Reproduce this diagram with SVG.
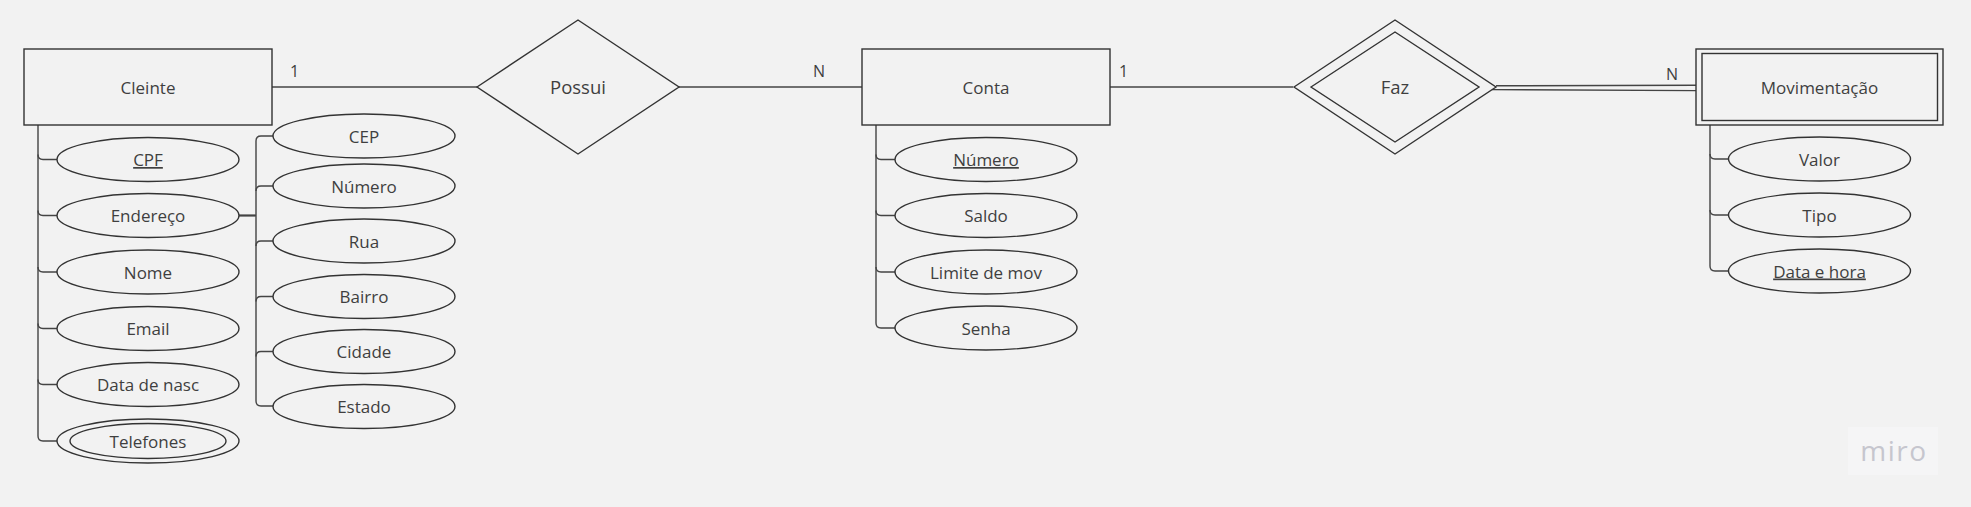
<svg xmlns="http://www.w3.org/2000/svg" width="1971" height="507" viewBox="0 0 1971 507">
<style>
.bg{fill:#f2f2f2}
.shape{fill:none;stroke:#333;stroke-width:1.4}
.ln{fill:none;stroke:#444;stroke-width:1.4}
.t{font-family:"Open Sans","Liberation Sans",sans-serif;font-size:17px;fill:#3f3f3f;text-anchor:middle}
.rel{font-size:18.5px}
.card{font-family:"Open Sans","Liberation Sans",sans-serif;font-size:16px;fill:#3f3f3f}
.u{text-decoration:underline}
</style>
<rect class="bg" x="0" y="0" width="1971" height="507"/>

<g id="connectors">
  <path class="ln" d="M272,87 H478"/>
  <path class="ln" d="M679,87 H862"/>
  <path class="ln" d="M1110,87 H1293"/>
  <path class="ln" d="M1496,85.8 L1696,85.3"/>
  <path class="ln" d="M1492,89.6 L1696,90.6"/>
  <path class="ln" d="M38,125 V436 Q38,441 43,441 H57"/>
  <path class="ln" d="M38,154.5 Q38,159.5 43,159.5 H57"/>
  <path class="ln" d="M38,210.5 Q38,215.5 43,215.5 H57"/>
  <path class="ln" d="M38,267 Q38,272 43,272 H57"/>
  <path class="ln" d="M38,323.5 Q38,328.5 43,328.5 H57"/>
  <path class="ln" d="M38,379.5 Q38,384.5 43,384.5 H57"/>
  <path class="ln" d="M239,215.5 H256" style="stroke-width:2.2"/>
  <path class="ln" d="M273,136 H261 Q256,136 256,141 V401 Q256,406 261,406 H273"/>
  <path class="ln" d="M256,191 Q256,186 261,186 H273"/>
  <path class="ln" d="M256,246 Q256,241 261,241 H273"/>
  <path class="ln" d="M256,301.5 Q256,296.5 261,296.5 H273"/>
  <path class="ln" d="M256,356.5 Q256,351.5 261,351.5 H273"/>
  <path class="ln" d="M876,125 V323 Q876,328 881,328 H895"/>
  <path class="ln" d="M876,154.5 Q876,159.5 881,159.5 H895"/>
  <path class="ln" d="M876,210.5 Q876,215.5 881,215.5 H895"/>
  <path class="ln" d="M876,267 Q876,272 881,272 H895"/>
  <path class="ln" d="M1710,125 V266 Q1710,271 1715,271 H1728"/>
  <path class="ln" d="M1710,154 Q1710,159 1715,159 H1728"/>
  <path class="ln" d="M1710,210 Q1710,215 1715,215 H1728"/>
  <text class="card" x="290" y="77">1</text>
  <text class="card" x="813" y="77">N</text>
  <text class="card" x="1119" y="77">1</text>
  <text class="card" x="1666" y="80">N</text>
</g>

<g id="cleinte">
  <rect class="shape" x="24" y="49" width="248" height="76"/>
  <text class="t" x="148" y="94">Cleinte</text>
</g>
<g id="possui">
  <polygon class="shape" points="477,87 578,20 679,87 578,154"/>
  <text class="t rel" x="578" y="94">Possui</text>
</g>
<g id="conta">
  <rect class="shape" x="862" y="49" width="248" height="76"/>
  <text class="t" x="986" y="94">Conta</text>
</g>
<g id="faz">
  <polygon class="shape" points="1294,87 1395,20 1496,87 1395,154"/>
  <polygon class="shape" points="1311,87 1395,32 1479,87 1395,142"/>
  <text class="t rel" x="1395" y="94">Faz</text>
</g>
<g id="movimentacao">
  <rect class="shape" x="1696" y="49" width="247" height="76"/>
  <rect class="shape" x="1702" y="53.5" width="235.5" height="67"/>
  <text class="t" x="1819.5" y="94">Movimentação</text>
</g>

<g id="attr-cpf"><ellipse class="shape" cx="148" cy="159.5" rx="91" ry="22"/><text class="t u" x="148" y="166">CPF</text></g>
<g id="attr-endereco"><ellipse class="shape" cx="148" cy="215.5" rx="91" ry="22"/><text class="t" x="148" y="222">Endereço</text></g>
<g id="attr-nome"><ellipse class="shape" cx="148" cy="272" rx="91" ry="22"/><text class="t" x="148" y="278.5">Nome</text></g>
<g id="attr-email"><ellipse class="shape" cx="148" cy="328.5" rx="91" ry="22"/><text class="t" x="148" y="335">Email</text></g>
<g id="attr-datanasc"><ellipse class="shape" cx="148" cy="384.5" rx="91" ry="22"/><text class="t" x="148" y="391">Data de nasc</text></g>
<g id="attr-telefones"><ellipse class="shape" cx="148" cy="441" rx="91" ry="22"/><ellipse class="shape" cx="148" cy="441" rx="78" ry="17.5"/><text class="t" x="148" y="447.5">Telefones</text></g>

<g id="attr-cep"><ellipse class="shape" cx="364" cy="136" rx="91" ry="22"/><text class="t" x="364" y="142.5">CEP</text></g>
<g id="attr-numero-end"><ellipse class="shape" cx="364" cy="186" rx="91" ry="22"/><text class="t" x="364" y="192.5">Número</text></g>
<g id="attr-rua"><ellipse class="shape" cx="364" cy="241" rx="91" ry="22"/><text class="t" x="364" y="247.5">Rua</text></g>
<g id="attr-bairro"><ellipse class="shape" cx="364" cy="296.5" rx="91" ry="22"/><text class="t" x="364" y="303">Bairro</text></g>
<g id="attr-cidade"><ellipse class="shape" cx="364" cy="351.5" rx="91" ry="22"/><text class="t" x="364" y="358">Cidade</text></g>
<g id="attr-estado"><ellipse class="shape" cx="364" cy="406.5" rx="91" ry="22"/><text class="t" x="364" y="413">Estado</text></g>

<g id="attr-numero"><ellipse class="shape" cx="986" cy="159.5" rx="91" ry="22"/><text class="t u" x="986" y="166">Número</text></g>
<g id="attr-saldo"><ellipse class="shape" cx="986" cy="215.5" rx="91" ry="22"/><text class="t" x="986" y="222">Saldo</text></g>
<g id="attr-limite"><ellipse class="shape" cx="986" cy="272" rx="91" ry="22"/><text class="t" x="986" y="278.5">Limite de mov</text></g>
<g id="attr-senha"><ellipse class="shape" cx="986" cy="328" rx="91" ry="22"/><text class="t" x="986" y="334.5">Senha</text></g>

<g id="attr-valor"><ellipse class="shape" cx="1819.5" cy="159" rx="91" ry="22"/><text class="t" x="1819.5" y="165.5">Valor</text></g>
<g id="attr-tipo"><ellipse class="shape" cx="1819.5" cy="215" rx="91" ry="22"/><text class="t" x="1819.5" y="221.5">Tipo</text></g>
<g id="attr-datahora"><ellipse class="shape" cx="1819.5" cy="271" rx="91" ry="22"/><text class="t u" x="1819.5" y="277.5">Data e hora</text></g>

<g id="logo">
  <rect x="1848" y="427" width="90" height="48" fill="#f5f5f6"/>
  <text x="1894" y="461" font-family="'Open Sans',Inter,sans-serif" font-size="28" font-weight="500" fill="#c6c6ce" text-anchor="middle" letter-spacing="1.5">miro</text>
</g>
</svg>
